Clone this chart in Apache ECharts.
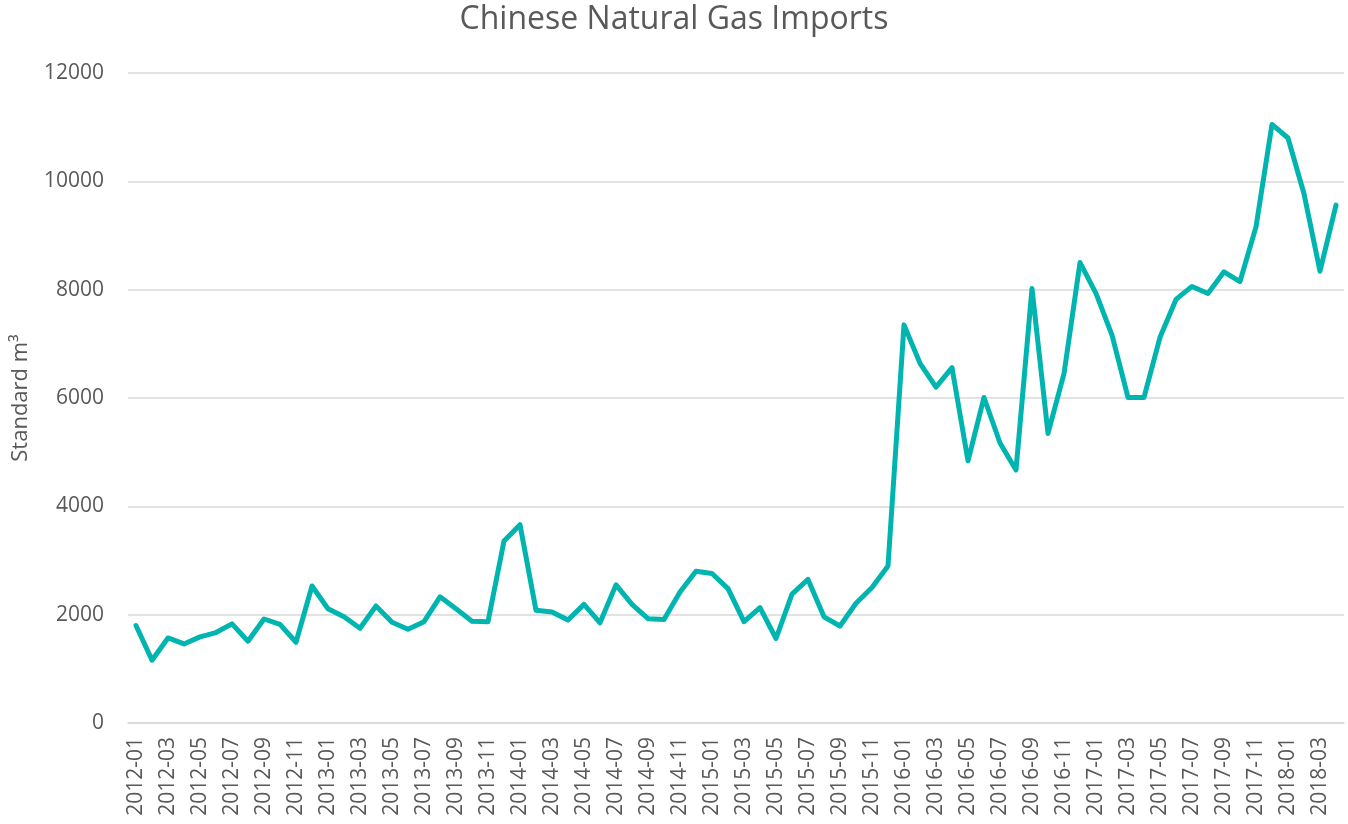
<!DOCTYPE html>
<html>
<head>
<meta charset="utf-8">
<script src="https://cdn.jsdelivr.net/npm/echarts@6/dist/echarts.min.js"></script>
<style>
  html, body { margin: 0; padding: 0; background: #ffffff; }
  #chart { width: 1348px; height: 824px; }
</style>
</head>
<body>
<div id="chart"></div>
<script>
// Monthly Chinese natural gas imports, 2012-01 .. 2018-04
const months = [];
for (let y = 2012; y <= 2018; y++) {
  for (let m = 1; m <= 12; m++) {
    if (y === 2018 && m > 4) break;
    months.push(y + '-' + String(m).padStart(2, '0'));
  }
}

const imports2012 = [1800, 1160, 1570, 1460, 1590, 1670, 1830, 1510, 1920, 1820, 1490, 2530];
const imports2013 = [2110, 1960, 1750, 2160, 1860, 1730, 1870, 2330, 2110, 1880, 1870, 3360];
const imports2014 = [3660, 2080, 2050, 1900, 2190, 1850, 2550, 2190, 1925, 1910, 2420, 2800];
const imports2015 = [2760, 2480, 1870, 2130, 1560, 2380, 2650, 1960, 1790, 2210, 2500, 2900];
const imports2016 = [7350, 6640, 6200, 6560, 4840, 6010, 5170, 4670, 8020, 5345, 6450, 8500];
const imports2017 = [7930, 7160, 6010, 6010, 7120, 7820, 8060, 7930, 8330, 8150, 9160, 11050];
const imports2018 = [10800, 9770, 8340, 9560];

const importValues = [].concat(imports2012, imports2013, imports2014, imports2015,
                               imports2016, imports2017, imports2018);

const yTicks = { min: 0, max: 12000, step: 2000 };

const textColor = '#595959';
const gridColor = '#d9d9d9';
const fontFamily = '"Open Sans", "Noto Sans", sans-serif';

const chart = echarts.init(document.getElementById('chart'), null, { renderer: 'canvas' });

chart.setOption({
  backgroundColor: '#ffffff',
  animation: false,
  title: {
    text: 'Chinese Natural Gas Imports',
    left: 'center',
    top: -1,
    textStyle: { color: textColor, fontSize: 32, fontWeight: 'normal', fontFamily: fontFamily }
  },
  grid: { left: 128, top: 73, width: 1216, height: 650, containLabel: false },
  xAxis: {
    type: 'category',
    data: months,
    boundaryGap: true,
    axisLine: { show: true, lineStyle: { color: gridColor, width: 1.5 } },
    axisTick: { show: false },
    axisLabel: {
      interval: 1,
      rotate: 90,
      margin: 14,
      color: textColor,
      fontSize: 21,
      fontFamily: fontFamily
    },
    splitLine: { show: false }
  },
  yAxis: {
    type: 'value',
    min: yTicks.min,
    max: yTicks.max,
    interval: yTicks.step,
    name: 'Standard m³',
    nameLocation: 'middle',
    nameGap: 96,
    nameTextStyle: { color: textColor, fontSize: 22, fontFamily: fontFamily },
    axisLine: { show: false },
    axisTick: { show: false },
    axisLabel: {
      margin: 24,
      color: textColor,
      fontSize: 21,
      fontFamily: fontFamily,
      formatter: function (v) { return String(v); }
    },
    splitLine: { show: true, lineStyle: { color: gridColor, width: 1.5 } }
  },
  series: [{
    name: 'Imports',
    type: 'line',
    data: importValues,
    showSymbol: false,
    symbol: 'none',
    smooth: false,
    lineStyle: { color: '#00b5b0', width: 5, cap: 'round', join: 'round' },
    itemStyle: { color: '#00b5b0' }
  }]
});
</script>
</body>
</html>
